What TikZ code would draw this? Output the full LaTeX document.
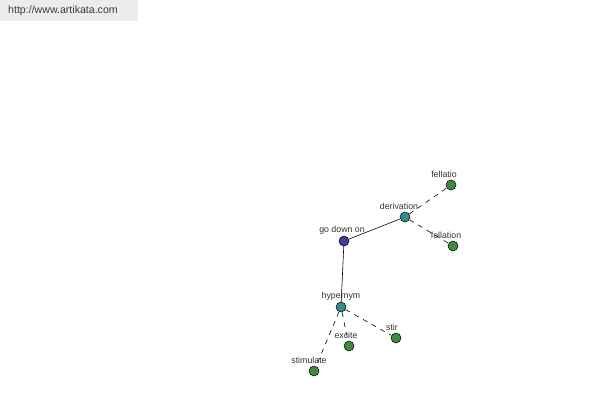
\documentclass[tikz,border=0pt]{standalone}
\usepackage{fontspec}
\setmainfont{Liberation Sans}
\definecolor{rootblue}{RGB}{62,64,150}
\definecolor{relteal}{RGB}{52,140,140}
\definecolor{leafgreen}{RGB}{62,138,62}
\definecolor{bargrey}{RGB}{236,236,236}
\definecolor{urlgrey}{RGB}{60,60,60}
\begin{document}
\begin{tikzpicture}[x=1pt,y=-1pt,
		dot/.style={circle,draw=black,line width=0.5pt,minimum size=10pt,inner sep=0pt},
		lbl/.style={font=\fontsize{8.8}{10}\selectfont,text=black!80,inner sep=0pt},
		rel/.style={line width=0.6pt},
		sub/.style={line width=0.6pt,dash pattern=on 5pt off 5pt}]
		\useasboundingbox[fill=white] (0,0) rectangle (600,400);
		\fill[bargrey] (0,0) rectangle (138,21);
		\node[anchor=west,text=urlgrey,font=\fontsize{10.6}{12}\selectfont,inner sep=0pt] (url) at (8,11) {http://www.artikata.com};
		% nodes
		\node[dot,fill=rootblue] (godown) at (344,241) {};
		\node[dot,fill=relteal] (deriv) at (405,217) {};
		\node[dot,fill=relteal] (hyper) at (341,307) {};
		\node[dot,fill=leafgreen] (fellatio) at (451,185) {};
		\node[dot,fill=leafgreen] (fellation) at (453,246) {};
		\node[dot,fill=leafgreen] (excite) at (349,346) {};
		\node[dot,fill=leafgreen] (stir) at (396,338) {};
		\node[dot,fill=leafgreen] (stimulate) at (314,371) {};
		% connectors
		\draw[rel] (godown) -- (deriv);
		\draw[rel] (godown) -- (hyper);
		\draw[sub] (deriv) -- (fellatio);
		\draw[sub] (deriv) -- (fellation);
		\draw[sub] (hyper) -- (excite);
		\draw[sub] (hyper) -- (stir);
		\draw[sub] (hyper) -- (stimulate);
		% labels
		\node[lbl] (lgodown) at (342,230) {go down on};
		\node[lbl] (lderiv) at (399,206) {derivation};
		\node[lbl] (lhyper) at (341,296) {hypernym};
		\node[lbl] (lfellatio) at (444,174) {fellatio};
		\node[lbl] (lfellation) at (446,235) {fellation};
		\node[lbl] (lexcite) at (346,335) {excite};
		\node[lbl] (lstir) at (392,327) {stir};
		\node[lbl] (lstimulate) at (309,360) {stimulate};
	\end{tikzpicture}
\end{document}
